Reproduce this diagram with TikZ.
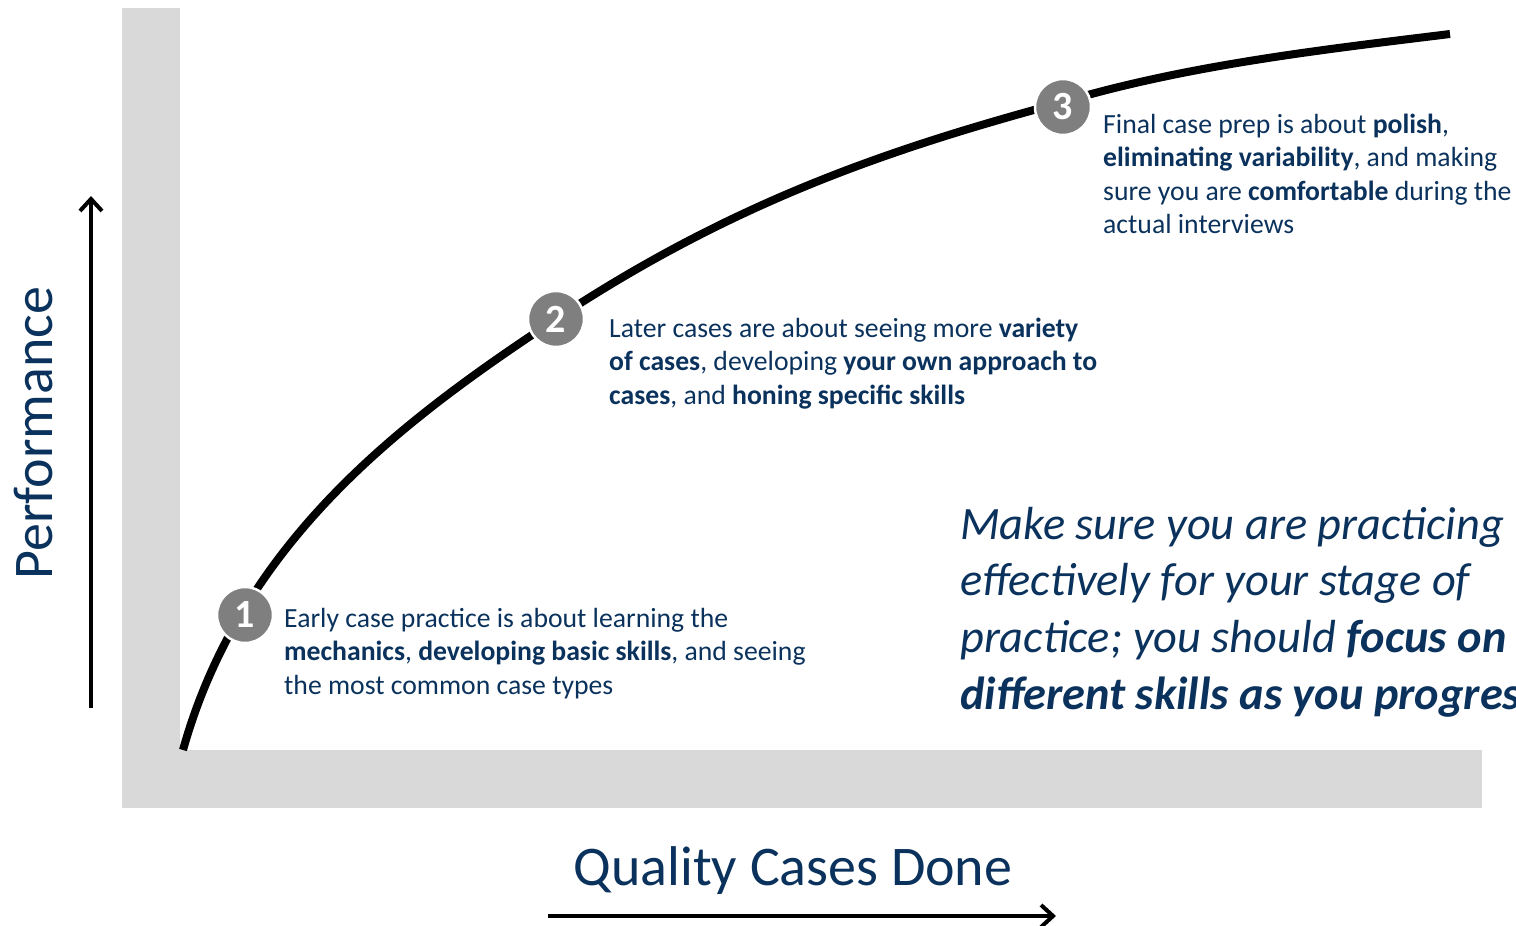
\documentclass[tikz,border=0pt]{standalone}
\usepackage{fontspec}
\setmainfont{Carlito}
\usetikzlibrary{arrows.meta}
\definecolor{navy}{RGB}{10,50,92}
\definecolor{barg}{RGB}{217,217,217}
\definecolor{dotg}{RGB}{127,127,127}
\begin{document}
\begin{tikzpicture}[x=1pt,y=-1pt,
  bar/.style={fill=barg,draw=none},
  stagedot/.style={circle,fill=dotg,draw=white,line width=2.5pt,minimum size=56pt,inner sep=0,text=white,font=\fontsize{40}{40}\selectfont\bfseries},
  txt/.style={anchor=north west,inner sep=0,align=left,text=navy,font=\fontsize{27.7}{33.5}\selectfont},
  bigtxt/.style={anchor=north west,inner sep=0,align=left,text=navy,font=\fontsize{46.4}{56.7}\selectfont\itshape},
  axislabel/.style={inner sep=0,text=navy,font=\fontsize{56}{60}\selectfont},
  axisarrow/.style={line width=4.5pt,-{Straight Barb[length=12pt,width=22pt,line width=4pt]}}
]
\useasboundingbox (0,0) rectangle (1516,926);
\clip (0,0) rectangle (1516,926);
% grey axes bars
\fill[bar] (122,8) rectangle (180,808);
\fill[bar] (122,750) rectangle (1482,808);
% curve
\draw[line width=8pt,line cap=butt]
  (183,750) .. controls (242,539) and (406,418) .. (556,319)
            .. controls (736,200) and (893,148) .. (1063,102)
            .. controls (1188,65) and (1320,50) .. (1450,34);
% stage markers
\node[stagedot] (s1) at (245,615) {\raisebox{-4pt}{1}};
\node[stagedot] (s2) at (556,319) {\raisebox{-4pt}{2}};
\node[stagedot] (s3) at (1063,107) {\raisebox{-4pt}{3}};
% texts
\node[txt] (t1) at (284,603.5) {\strut Early case practice is about learning the\\\textbf{mechanics}, \textbf{developing basic skills}, and seeing\\the most common case types};
\node[txt] (t2) at (609,313.5) {\strut Later cases are about seeing more \textbf{variety}\\\textbf{of cases}, developing \textbf{your own approach to}\\\textbf{cases}, and \textbf{honing specific skills}};
\node[txt] (t3) at (1103,109.5) {\strut Final case prep is about \textbf{polish},\\\textbf{eliminating variability}, and making\\sure you are \textbf{comfortable} during the\\actual interviews};
\node[bigtxt] (t4) at (960,499.3) {\strut Make sure you are practicing\\effectively for your stage of\\practice; you should \textbf{focus on}\\\textbf{different skills as you progress}};
% axis labels
\node[axislabel,rotate=90,anchor=base] (ylab) at (52,433) {Performance};
\node[axislabel,anchor=base] (xlab) at (793,885) {Quality Cases Done};
% axis arrows
\coordinate (ya) at (91,708);
\coordinate (yb) at (91,196);
\coordinate (xa) at (548,916);
\coordinate (xb) at (1056,916);
\draw[axisarrow] (ya) -- (yb);
\draw[axisarrow] (xa) -- (xb);
\end{tikzpicture}
\end{document}
